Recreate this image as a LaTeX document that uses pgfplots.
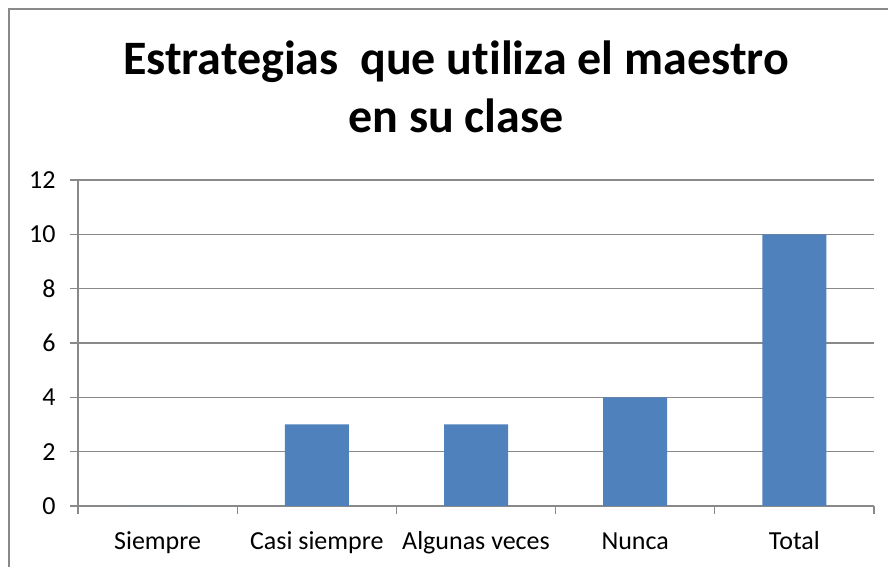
\documentclass[border=0pt]{standalone}
\usepackage{pgfplots}
\pgfplotsset{compat=1.18}
\usepackage{fontspec}
\setmainfont{Carlito}[Ligatures=NoCommon]
\definecolor{barblue}{HTML}{4F81BD}
\definecolor{gridgray}{HTML}{898989}
\begin{document}
\begin{tikzpicture}[x=1pt,y=1pt]
\clip (0,0) rectangle (888,567);
\path[use as bounding box] (0,0) rectangle (888,567);
\fill[white] (0,0) rectangle (888,567);
\draw[gridgray,line width=1.5pt] (9,-20) -- (9,558) -- (900,558);
\node[anchor=base,font=\fontsize{48}{56}\selectfont\bfseries] at (456,492) {Estrategias\ \ que utiliza el maestro};
\node[anchor=base,font=\fontsize{48}{56}\selectfont\bfseries] at (456,434) {en su clase};
\begin{axis}[
  at={(78pt,61pt)}, anchor=south west,
  width=796pt, height=326pt, scale only axis,
  xmin=-0.5, xmax=4.5, ymin=0, ymax=12,
  ytick={0,2,...,12},
  xtick={0,...,4},
  xticklabels={Siempre,Casi siempre,Algunas veces,Nunca,Total},
  minor xtick={-0.5,0.5,...,4.5},
  axis x line*=bottom, axis y line*=left,
  axis line style={gridgray,line width=1.2pt,-},
  ymajorgrids,
  major grid style={gridgray,line width=1.2pt},
  tick style={gridgray,line width=1.2pt},
  tick align=outside,
  major tick length=8pt, minor tick length=8pt,
  major x tick style={draw=none},
  minor x tick style={gridgray,line width=1.2pt},
  /pgf/number format/assume math mode=true,
  ticklabel style={font=\fontsize{26}{30}\selectfont, text=black},
  yticklabel style={xshift=-11pt},
  xticklabel style={yshift=-25pt, text height=0.72em, text depth=0.25em},
  enlargelimits=false, clip=false,
]
\addplot[ybar, bar width=64pt, fill=barblue, draw=none] coordinates {(0,0) (1,3) (2,3) (3,4) (4,10)};
\end{axis}
\end{tikzpicture}
\end{document}
